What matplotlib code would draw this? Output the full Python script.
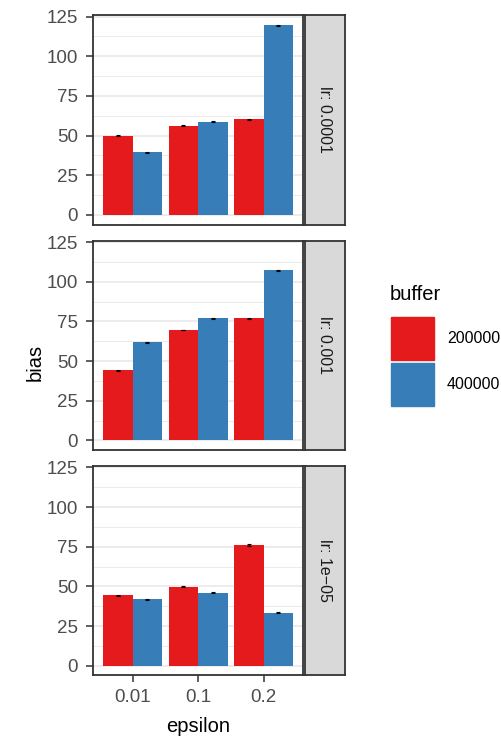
import numpy as np
import matplotlib
matplotlib.use("Agg")
from matplotlib import pyplot as plt
from matplotlib.patches import Rectangle

plt.rcParams['font.family'] = ['Liberation Sans', 'DejaVu Sans']

# data
epsilons = ["0.01", "0.1", "0.2"]
buffers = ["200000", "400000"]
lrs = ["lr: 0.0001", "lr: 0.001", "lr: 1e\u221205"]

bias_200k = [[49.8, 56.1, 60.4],    # lr 0.0001
             [44.3, 69.6, 77.0],    # lr 0.001
             [44.5, 49.7, 76.1]]    # lr 1e-05
bias_400k = [[39.6, 58.6, 119.5],
             [61.9, 77.0, 107.2],
             [42.0, 46.0, 33.3]]
err_200k = [[0.3, 0.3, 0.3], [0.3, 0.3, 0.3], [0.3, 0.3, 0.4]]
err_400k = [[0.3, 0.3, 0.5], [0.3, 0.3, 0.4], [0.3, 0.3, 0.3]]

colors = ["#E41A1C", "#377EB8"]
W, H = 502, 742
fig = plt.figure(figsize=(W/100, H/100), dpi=100)

grey20 = "#333333"
tick_col = "#4D4D4D"

left, right = 93.5, 302.8
strip_l, strip_r = 305.0, 345.0
tops = [15.0, 240.5, 465.8]
ph = 209.5

x = np.arange(1, len(epsilons)+1)
bw = 0.45
for i, lr in enumerate(lrs):
    top = tops[i]
    ax = fig.add_axes([left/W, 1-(top+ph)/H, (right-left)/W, ph/H])
    series = [(bias_200k[i], err_200k[i]), (bias_400k[i], err_400k[i])]
    for j, (vals, errs) in enumerate(series):
        xs = x + (j-0.5)*bw
        ax.bar(xs, vals, width=bw, color=colors[j], zorder=2)
        ax.errorbar(xs, vals, yerr=errs, fmt='none', ecolor='black',
                    elinewidth=0.8, capsize=1.3, capthick=0.8, zorder=3)
    ax.set_xlim(0.4, 3.6)
    ax.set_ylim(-6, 126)
    ax.set_yticks([0, 25, 50, 75, 100, 125])
    ax.set_yticks([12.5, 37.5, 62.5, 87.5, 112.5], minor=True)
    ax.grid(axis='y', which='major', color='#EBEBEB', lw=1.3, zorder=0)
    ax.grid(axis='y', which='minor', color='#EBEBEB', lw=0.7, zorder=0)
    ax.set_axisbelow(True)
    ax.tick_params(axis='y', which='minor', length=0)
    ax.tick_params(axis='both', which='major', length=5, width=1.1,
                   color=grey20, labelcolor=tick_col, labelsize=13.5)
    ax.tick_params(axis='y', pad=6)
    ax.tick_params(axis='x', pad=5)
    ax.set_xticks(x)
    if i < 2:
        ax.set_xticklabels([])
        ax.tick_params(axis='x', length=0)
    else:
        ax.set_xticklabels(epsilons)
    for s in ax.spines.values():
        s.set_color(grey20)
        s.set_linewidth(1.3)

    sax = fig.add_axes([strip_l/W, 1-(top+ph)/H, (strip_r-strip_l)/W, ph/H])
    sax.set_facecolor('#D9D9D9')
    sax.set_xticks([])
    sax.set_yticks([])
    for s in sax.spines.values():
        s.set_color(grey20)
        s.set_linewidth(1.3)
    sax.text(0.5, 0.5, lr, rotation=-90, ha='center', va='center',
             fontsize=11.5, color='#1A1A1A', transform=sax.transAxes)

fig.text(35/W, 1-362/H, "bias", rotation=90, ha='center', va='center',
         fontsize=14.5, color='black')
fig.text((left+right)/2/W, 1-726/H, "epsilon", ha='center', va='center',
         fontsize=14.5, color='black')

# legend
fig.text(390/W, 1-295/H, "buffer", ha='left', va='center', fontsize=14.5)
key_tops = [317, 363]
for j, b in enumerate(buffers):
    kt = key_tops[j]
    fig.patches.append(Rectangle((391/W, 1-(kt+43)/H), 43/W, 43/H,
                                 transform=fig.transFigure, color=colors[j]))
    fig.text(447/W, 1-(kt+21.5)/H, b, ha='left', va='center', fontsize=11.5)

fig.savefig("out.png", dpi=100)
